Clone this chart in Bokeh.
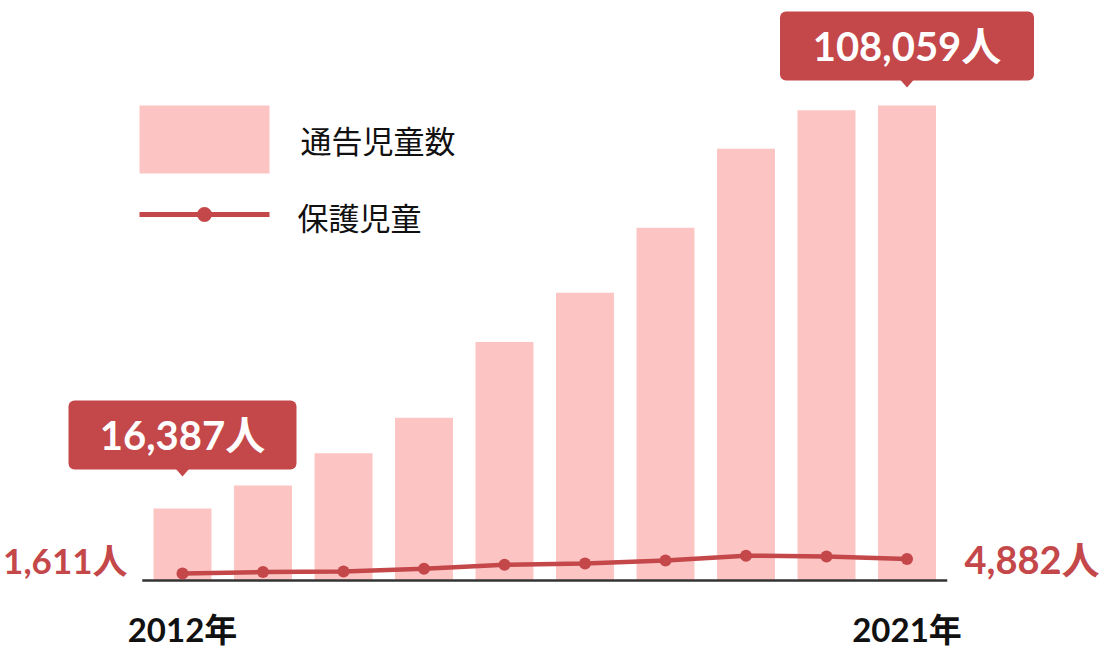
from bokeh.plotting import figure
from bokeh.models import Range1d, BoxAnnotation
from bokeh.core.properties import value
from bokeh.embed import file_html
from bokeh.resources import INLINE

# ---- data ----
years = ["2012", "2013", "2014", "2015", "2016", "2017", "2018", "2019", "2020", "2021"]
reported = [16387, 21603, 28923, 37020, 54227, 65431, 80252, 98222, 106991, 108059]
protected = [1611, 1920, 2050, 2660, 3580, 3880, 4570, 5640, 5480, 4882]
legend_labels = ["通告児童数", "保護児童"]
unit = "人"
year_suffix = "年"

# ---- styles ----
PINK = "#fcc5c4"
RED = "#c4474a"
DARK = "#111111"
NUM_FONT = value("Lato, Noto Sans CJK JP")
JP_FONT = value("Noto Sans CJK JP")

W, H = 1108, 672
X0, DX = 182.0, 80.5      # pixel of first category, pixel pitch
Y0, SY = 580.0, 0.004396  # pixel of zero, pixels per unit


def xd(px):
    return (px - X0) / DX


def yd(py):
    return (Y0 - py) / SY


xs = list(range(len(years)))

p = figure(width=W, height=H, x_range=Range1d(xd(0), xd(W)), y_range=Range1d(yd(H), yd(0)),
           x_axis_location=None, y_axis_location=None, toolbar_location=None,
           output_backend="svg", min_border=0, outline_line_color=None,
           background_fill_color="white", border_fill_color="white")
p.xgrid.visible = False
p.ygrid.visible = False

# bars
p.vbar(x=xs, top=reported, bottom=0, width=0.72, fill_color=PINK, line_color=None)
# baseline
p.segment(x0=[xs[0] - 0.5], y0=[0], x1=[xs[-1] + 0.5], y1=[0], line_color="#333333", line_width=2.5)
# line series
p.line(xs, protected, line_color=RED, line_width=4.5)
p.scatter(xs, protected, size=12, fill_color=RED, line_color=None)

# legend (manual)
p.quad(left=[xd(139)], right=[xd(269)], top=[yd(105)], bottom=[yd(173)], fill_color=PINK, line_color=None)
p.segment(x0=[xd(139)], y0=[yd(214)], x1=[xd(269)], y1=[yd(214)], line_color=RED, line_width=5)
p.scatter([xd(204)], [yd(214)], size=15, fill_color=RED, line_color=None)
p.text(x=[xd(300), xd(297)], y=[yd(139), yd(216)], text=legend_labels, text_baseline="middle",
       text_align="left", text_font=JP_FONT, text_font_size="31px", text_color=DARK)

# callouts
for idx, gap, bw in [(0, 32, 228), (len(xs) - 1, 18, 254)]:
    top_px = Y0 - reported[idx] * SY
    tip_py = top_px - gap
    base_py = tip_py - 7
    box_top_py = base_py - 69
    half = bw / 2 / DX
    p.add_layout(BoxAnnotation(left=idx - half, right=idx + half, bottom=yd(base_py), top=yd(box_top_py),
                               fill_color=RED, fill_alpha=1.0, line_color=None, border_radius=6,
                               level="underlay"))
    p.patch(x=[idx - 7 / DX, idx + 7 / DX, idx], y=[yd(base_py - 1), yd(base_py - 1), yd(tip_py)],
            fill_color=RED, line_color=None)
    p.text(x=[idx], y=[yd(base_py - 34)], text=[f"{reported[idx]:,}{unit}"], text_align="center",
           text_baseline="middle", text_font=NUM_FONT, text_font_style="bold",
           text_font_size="40px", text_color="white")

# end labels for line series
p.text(x=[xd(127)], y=[yd(559)], text=[f"{protected[0]:,}{unit}"], text_align="right",
       text_baseline="middle", text_font=NUM_FONT, text_font_style="bold",
       text_font_size="35px", text_color=RED)
p.text(x=[xd(964)], y=[yd(558)], text=[f"{protected[-1]:,}{unit}"], text_align="left",
       text_baseline="middle", text_font=NUM_FONT, text_font_style="bold",
       text_font_size="38px", text_color=RED)

# year labels
p.text(x=[xs[0], xs[-1]], y=[yd(628), yd(628)], text=[years[0] + year_suffix, years[-1] + year_suffix],
       text_align="center", text_baseline="middle", text_font=NUM_FONT, text_font_style="bold",
       text_font_size="33px", text_color=DARK)

open("out.html", "w").write(file_html(p, INLINE))
